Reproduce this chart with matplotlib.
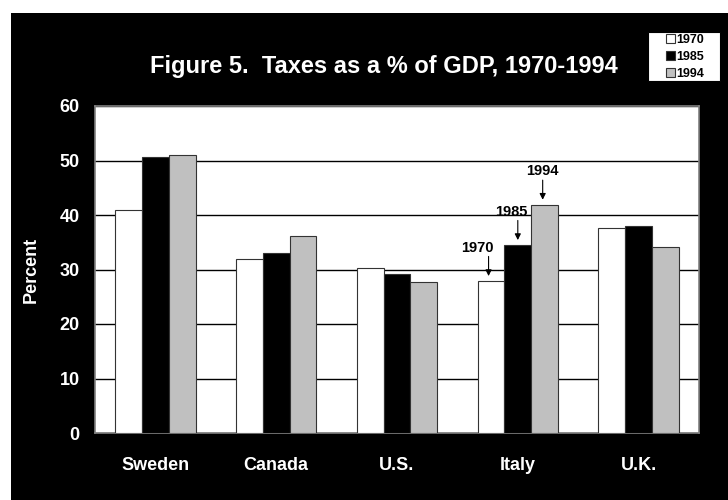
import numpy as np
import matplotlib
matplotlib.use('Agg')
import matplotlib.pyplot as plt
from matplotlib.patches import Rectangle

plt.rcParams['font.family'] = ['Liberation Sans', 'DejaVu Sans']

paises = ['Sweden', 'Canada', 'U.S.', 'Italy', 'U.K.']
anios = ['1970', '1985', '1994']
v1970 = [41.0, 32.0, 30.2, 27.9, 37.6]
v1985 = [50.7, 33.0, 29.2, 34.5, 38.0]
v1994 = [51.1, 36.2, 27.7, 41.9, 34.2]
colores = ['white', 'black', '#c0c0c0']

W, H = 728, 500
fig = plt.figure(figsize=(W / 100, H / 100), dpi=100)
# fondo negro del panel
fig.patches.append(Rectangle((11 / W, 0), 1, 1 - 13 / H, transform=fig.transFigure,
                             facecolor='black', edgecolor='none', zorder=-10))

ax = fig.add_axes([95 / W, 1 - 433 / H, (699 - 95) / W, (433 - 106) / H])
ax.set_facecolor('white')

x = np.arange(len(paises))
ancho = 0.222
series = [v1970, v1985, v1994]
barras = []
for i, vals in enumerate(series):
    b = ax.bar(x + (i - 1) * ancho, vals, ancho, color=colores[i],
               edgecolor='#333333', linewidth=0.8, label=anios[i], zorder=3)
    barras.append(b)

ax.set_xlim(-0.5, len(paises) - 0.5)
ax.set_ylim(0, 60)
ax.set_yticks(range(0, 61, 10))
ax.yaxis.grid(True, color='black', linewidth=1.0, zorder=1)
ax.set_axisbelow(True)
for s in ax.spines.values():
    s.set_color('#808080')
    s.set_linewidth(1.2)
ax.tick_params(axis='y', length=0, colors='white', labelsize=13, pad=11)
ax.tick_params(axis='x', length=0, colors='white', labelsize=13, pad=17)
ax.set_xticks(x)
ax.set_xticklabels(paises, fontweight='bold')
for t in ax.get_yticklabels():
    t.set_fontweight('bold')
ax.set_ylabel('Percent', color='white', fontweight='bold', fontsize=13)
ax.yaxis.set_label_coords(-0.091, 0.5)

fig.text(384 / W, 1 - 66 / H, 'Figure 5.  Taxes as a % of GDP, 1970-1994',
         color='white', fontweight='bold', fontsize=17, ha='center', va='center')

# anotaciones Italia
it = paises.index('Italy')
notas = [(v1970[it], 0, -0.11, -0.02), (v1985[it], 1, -0.05, 0.0), (v1994[it], 2, -0.016, -0.016)]
for val, k, dtexto, dflecha in notas:
    xb = it + (k - 1) * ancho
    ax.text(xb + dtexto, val + 4.8, anios[k], ha='center', va='bottom',
            fontsize=10.5, fontweight='bold', color='black', zorder=5)
    ax.annotate('', xy=(xb + dflecha, val + 0.9), xytext=(xb + dflecha, val + 4.5),
                arrowprops=dict(arrowstyle='-|>', color='black', lw=0.8, mutation_scale=9,
                                shrinkA=0, shrinkB=0), zorder=5)

# leyenda
fig.patches.append(Rectangle((648 / W, 1 - 81 / H), 72 / W, 49 / H, transform=fig.transFigure,
                             facecolor='white', edgecolor='black', linewidth=0.8, zorder=5))
leg = fig.legend(handles=barras, labels=anios, loc='upper left',
                 bbox_to_anchor=(666 / W, 1 - 34 / H), frameon=False,
                 prop={'weight': 'bold', 'size': 9}, handlelength=0.7, handleheight=0.7,
                 handletextpad=0.15, labelspacing=0.4, borderpad=0, borderaxespad=0)
leg.set_zorder(6)

fig.savefig('out.png', dpi=100)
